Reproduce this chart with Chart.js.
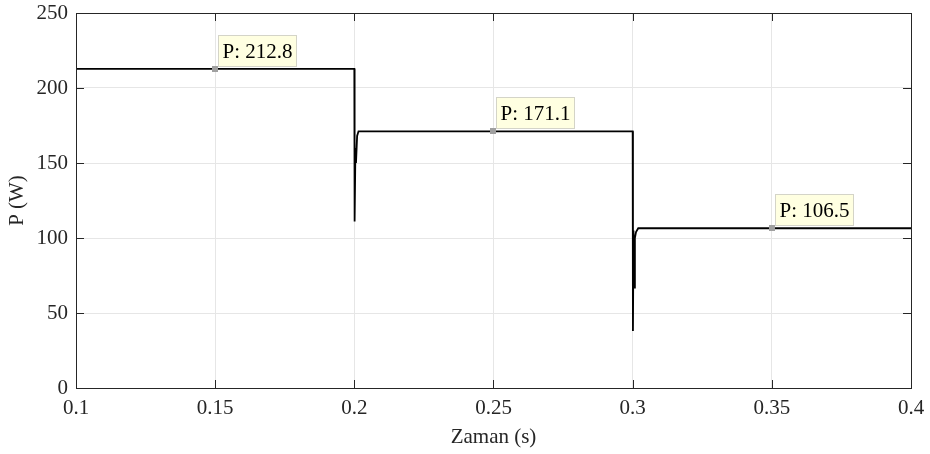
<!DOCTYPE html>
<html>
<head>
<meta charset="utf-8">
<script src="https://cdn.jsdelivr.net/npm/chart.js@4.4.1/dist/chart.umd.min.js"></script>
<style>
html,body{margin:0;padding:0;background:#fff;}
canvas{display:block;}
</style>
</head>
<body>
<canvas id="c" width="930" height="454"></canvas>
<script>
// Time (s) and power (W) samples
const timeS  = [0.1, 0.2, 0.2001, 0.2004, 0.2006, 0.2010, 0.2015, 0.3, 0.3001, 0.3003, 0.3005, 0.3008, 0.3012, 0.3020, 0.4];
const powerW = [212.8, 212.8, 111, 160, 150, 168, 171.1, 171.1, 38, 105, 67, 100, 104, 106.5, 106.5];

// Data tips
const tipX = [0.15, 0.25, 0.35];
const tipY = [212.8, 171.1, 106.5];
const tipLabels = ['P: 212.8', 'P: 171.1', 'P: 106.5'];

// Tick values
const xTicks = [0.1, 0.15, 0.2, 0.25, 0.3, 0.35, 0.4];
const xTickLabels = ['0.1', '0.15', '0.2', '0.25', '0.3', '0.35', '0.4'];
const yTicks = [0, 50, 100, 150, 200, 250];

const FONT = "'Liberation Serif', 'DejaVu Serif', serif";
const TEXT = '#262626';

const framePlugin = {
  id: 'frame',
  afterDatasetsDraw(chart) {
    const {ctx, chartArea: a, scales: {x, y}} = chart;
    ctx.save();
    ctx.strokeStyle = TEXT;
    ctx.lineWidth = 1;
    const tl = 8;
    ctx.beginPath();
    xTicks.forEach(v => {
      const px = Math.round(x.getPixelForValue(v)) + 0.5;
      ctx.moveTo(px, a.bottom); ctx.lineTo(px, a.bottom - tl);
      ctx.moveTo(px, a.top); ctx.lineTo(px, a.top + tl);
    });
    yTicks.forEach(v => {
      const py = Math.round(y.getPixelForValue(v)) + 0.5;
      ctx.moveTo(a.left, py); ctx.lineTo(a.left + tl, py);
      ctx.moveTo(a.right, py); ctx.lineTo(a.right - tl, py);
    });
    ctx.stroke();
    ctx.strokeRect(Math.round(a.left) + 0.5, Math.round(a.top) + 0.5,
                   Math.round(a.right - a.left), Math.round(a.bottom - a.top));
    ctx.restore();
  },
  afterDraw(chart) {
    const {ctx, scales: {x, y}} = chart;
    ctx.save();
    ctx.font = "21px " + FONT;
    tipX.forEach((tx, i) => {
      const px = x.getPixelForValue(tx);
      const py = y.getPixelForValue(tipY[i]);
      const w = ctx.measureText(tipLabels[i]).width + 8;
      const h = 31;
      const bx = Math.round(px + 3) + 0.5;
      const by = Math.round(py - 3 - h) + 0.5;
      ctx.fillStyle = '#ffffe1';
      ctx.fillRect(bx, by, w, h);
      ctx.strokeStyle = '#d4d4c8';
      ctx.lineWidth = 1;
      ctx.strokeRect(bx, by, w, h);
      ctx.fillStyle = '#000';
      ctx.textBaseline = 'middle';
      ctx.fillText(tipLabels[i], bx + 4, by + h / 2 + 1);
      // marker
      ctx.fillStyle = '#a0a0a0';
      ctx.fillRect(Math.round(px) - 3, Math.round(py) - 3, 6, 6);
    });
    ctx.restore();
  }
};

new Chart(document.getElementById('c'), {
  type: 'line',
  data: {
    datasets: [{
      data: timeS.map((t, i) => ({x: t, y: powerW[i]})),
      borderColor: '#000',
      borderWidth: 1.8,
      pointRadius: 0,
      tension: 0,
      fill: false
    }]
  },
  options: {
    responsive: false,
    animation: false,
    layout: {padding: {top: 13, right: 19, left: 0, bottom: 0}},
    plugins: {legend: {display: false}, tooltip: {enabled: false}},
    scales: {
      x: {
        type: 'linear',
        min: 0.1, max: 0.4,
        afterBuildTicks(s) { s.ticks = xTicks.map(v => ({value: v})); },
        afterFit(s) { s.height = 66; s.paddingLeft = 0; s.paddingRight = 0; },
        ticks: {
          callback: (v) => { const i = xTicks.indexOf(v); return i >= 0 ? xTickLabels[i] : ''; },
          font: {family: FONT, size: 21},
          color: TEXT,
          padding: 8,
          maxRotation: 0,
          autoSkip: false
        },
        grid: {color: '#e6e6e6', drawTicks: false},
        border: {display: false},
        title: {display: true, text: 'Zaman (s)', font: {family: FONT, size: 21}, color: TEXT, padding: {top: 0, bottom: 4}}
      },
      y: {
        type: 'linear',
        min: 0, max: 250,
        afterBuildTicks(s) { s.ticks = yTicks.map(v => ({value: v})); },
        afterFit(s) { s.width = 76; s.paddingTop = 0; s.paddingBottom = 0; },
        ticks: {
          font: {family: FONT, size: 21},
          color: TEXT,
          padding: 8
        },
        grid: {color: '#e6e6e6', drawTicks: false},
        border: {display: false},
        title: {display: true, text: 'P (W)', font: {family: FONT, size: 21}, color: TEXT, padding: {top: 5, bottom: 0}}
      }
    }
  },
  plugins: [framePlugin]
});
</script>
</body>
</html>
